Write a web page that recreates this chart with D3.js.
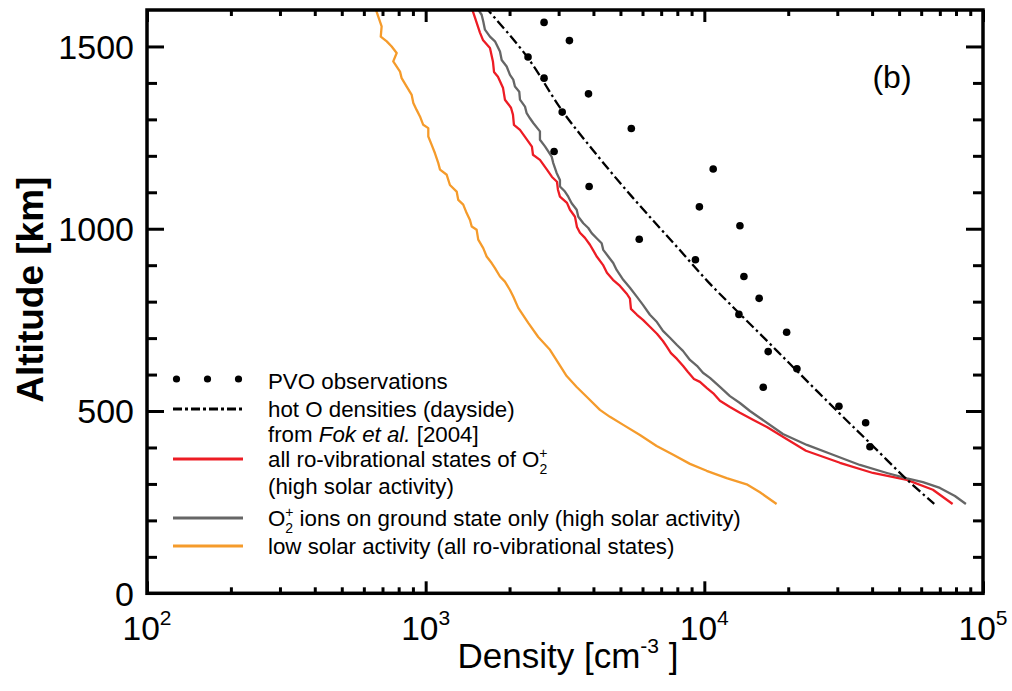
<!DOCTYPE html>
<html><head><meta charset="utf-8">
<script src="https://cdn.jsdelivr.net/npm/d3@7"></script>
<style>html,body{margin:0;padding:0;background:#fff;} svg{display:block;}</style>
</head><body>
<svg id="chart" width="1012" height="691"></svg>
<script>
// ---------------- data ----------------
const pvoDensity  = [2660,3280,2330,2660,3840,3090,5470,2890,10760,3860,9600,13420,5840,9290,13870,15730,13310,19740,16950,21490,16270,30410,37920,39290];
const pvoAltitude = [1566,1516,1471,1413,1370,1320,1275,1212,1164,1116,1060,1008,971,915,869,809,765,716,663,616,565,513,468,402];

const hotODensity  = [1630,1691,2310,3100,3980,4980,6230,7980,10300,13310,16910,21490,30410,39290,53330,66840];
const hotOAltitude = [1610,1596,1472,1322,1216,1126,1041,950,855,769,690,610,495,412,312,245];

const redDensity  = [1470,1503,1566,1605,1701,1744,1759,1817,1894,1925,2024,2057,2074,2180,2272,2406,2427,2571,2724,2840,2959,2983,3033,3214,3295,3434,3491,3578,3729,3886,3983,4117,4327,4472,4700,4980,5276,5408,5453,5731,6022,6378,6760,7104,7342,7589,7975,8380,8734,9178,9643,10216,10824,11376,12357,13417,14944,16772,19460,23150,30660,40270,53330,66110,77800];
const redAltitude = [1601,1579,1538,1518,1496,1458,1430,1417,1387,1354,1332,1313,1285,1271,1252,1225,1203,1189,1162,1142,1129,1107,1088,1071,1052,1033,1005,989,975,956,942,923,901,879,860,843,821,808,780,764,750,731,712,692,676,659,643,624,607,588,580,563,547,528,511,495,476,456,426,391,358,330,311,284,245];

const grayDensity  = [1544,1588,1609,1632,1701,1773,1848,1874,1953,2007,2062,2091,2167,2180,2272,2304,2367,2433,2571,2571,2680,2754,2832,2870,2951,3033,3033,3161,3249,3341,3483,3530,3679,3833,3942,4108,4281,4338,4521,4711,4845,5117,5408,5731,6022,6378,6760,7104,7526,7975,8380,8880,9408,9886,10474,11376,12357,13417,14576,15833,19143,23343,28940,36160,45210,53330,60860,70050,79300,86830];
const grayAltitude = [1601,1587,1569,1546,1527,1514,1486,1463,1445,1422,1409,1390,1376,1354,1335,1317,1303,1290,1267,1244,1226,1212,1198,1180,1153,1134,1116,1102,1088,1070,1052,1033,1015,1002,988,974,960,942,924,906,887,860,838,813,791,764,744,720,701,681,665,640,624,605,591,566,541,522,500,481,437,407,380,352,330,315,305,289,267,245];

const lowDensity  = [663,676,695,690,725,755,787,765,809,820,855,891,903,928,954,980,1022,1022,1051,1080,1110,1126,1190,1222,1292,1309,1364,1403,1442,1463,1524,1544,1609,1655,1725,1773,1848,1925,2007,2062,2149,2334,2535,2793,2991,3206,3483,3782,4220,4585,5117,5874,6743,7734,8880,10193,12023,14187,15833,18170];
const lowAltitude = [1601,1582,1555,1527,1514,1500,1482,1459,1431,1413,1390,1367,1345,1326,1308,1285,1276,1253,1230,1207,1180,1162,1148,1120,1102,1079,1066,1043,1024,1006,997,970,947,924,906,892,869,855,832,814,783,742,703,668,632,596,566,539,503,484,462,434,404,380,355,336,316,299,277,245];

const xTickExponents = [2,3,4,5];
const yTickLabels = [0,500,1000,1500];
const yMinorTicks = [100,200,300,400,600,700,800,900,1100,1200,1300,1400];

const legendLabels = [
  ["PVO observations"],
  ["hot O densities (dayside)", "from |Fok et al.| [2004]"],
  ["all ro-vibrational states of O@", "(high solar activity)"],
  ["O@ ions on ground state only (high solar activity)"],
  ["low solar activity (all ro-vibrational states)"]
];

// ---------------- layout ----------------
const L=147, R=983, T=10, B=593.3;
const FONT="'Liberation Sans', Arial, Helvetica, sans-serif";
const colors = {red:"#ed1c24", gray:"#666666", orange:"#f59b2b", black:"#000"};

const x=d3.scaleLog().domain([1e2,1e5]).range([L,R]);
const y=d3.scaleLinear().domain([0,1600]).range([B,T]);
const svg=d3.select("#chart");

svg.append("defs").append("clipPath").attr("id","clip")
  .append("rect").attr("x",L).attr("y",T).attr("width",R-L).attr("height",B-T);

const pts=(n,a)=>n.map((v,i)=>[v,a[i]]);
const line=d3.line().x(d=>x(d[0])).y(d=>y(d[1]));
const smooth=d3.line().x(d=>x(d[0])).y(d=>y(d[1])).curve(d3.curveCatmullRom);

const plot=svg.append("g").attr("clip-path","url(#clip)");
plot.append("path").datum(pts(lowDensity,lowAltitude)).attr("d",line)
  .attr("fill","none").attr("stroke",colors.orange).attr("stroke-width",2.3).attr("stroke-linejoin","round");
plot.append("path").datum(pts(redDensity,redAltitude)).attr("d",line)
  .attr("fill","none").attr("stroke",colors.red).attr("stroke-width",2.3).attr("stroke-linejoin","round");
plot.append("path").datum(pts(grayDensity,grayAltitude)).attr("d",line)
  .attr("fill","none").attr("stroke",colors.gray).attr("stroke-width",2.3).attr("stroke-linejoin","round");
plot.append("path").datum(pts(hotODensity,hotOAltitude)).attr("d",smooth)
  .attr("fill","none").attr("stroke",colors.black).attr("stroke-width",2.3)
  .attr("stroke-dasharray","10,3.5,2.5,3.5");
plot.selectAll("circle.pvo").data(pts(pvoDensity,pvoAltitude)).enter().append("circle")
  .attr("class","pvo").attr("cx",d=>x(d[0])).attr("cy",d=>y(d[1])).attr("r",3.8).attr("fill","#000");

// ---------------- axes ----------------
const majorX=xTickExponents.map(e=>Math.pow(10,e));
const minorX=[];
xTickExponents.slice(0,-1).forEach(e=>{for(let k=2;k<=9;k++) minorX.push(k*Math.pow(10,e));});

function styleAxis(sel){
  sel.select(".domain").remove();
  sel.selectAll("text").remove();
  sel.selectAll("line").attr("stroke","#000").attr("stroke-width",3);
}
svg.append("g").attr("transform",`translate(0,${B})`).call(d3.axisBottom(x).tickValues(majorX).tickSize(-12).tickFormat("")).call(styleAxis);
svg.append("g").attr("transform",`translate(0,${B})`).call(d3.axisBottom(x).tickValues(minorX).tickSize(-6).tickFormat("")).call(styleAxis);
svg.append("g").attr("transform",`translate(0,${T})`).call(d3.axisTop(x).tickValues(majorX).tickSize(-12).tickFormat("")).call(styleAxis);
svg.append("g").attr("transform",`translate(0,${T})`).call(d3.axisTop(x).tickValues(minorX).tickSize(-6).tickFormat("")).call(styleAxis);

svg.append("g").attr("transform",`translate(${L},0)`).call(d3.axisLeft(y).tickValues(yTickLabels.slice(1)).tickSize(-17).tickFormat("")).call(styleAxis);
svg.append("g").attr("transform",`translate(${L},0)`).call(d3.axisLeft(y).tickValues(yMinorTicks).tickSize(-10).tickFormat("")).call(styleAxis);
svg.append("g").attr("transform",`translate(${R},0)`).call(d3.axisRight(y).tickValues(yTickLabels.slice(1)).tickSize(-17).tickFormat("")).call(styleAxis);
svg.append("g").attr("transform",`translate(${R},0)`).call(d3.axisRight(y).tickValues(yMinorTicks).tickSize(-10).tickFormat("")).call(styleAxis);

svg.append("rect").attr("x",L).attr("y",T).attr("width",R-L).attr("height",B-T)
  .attr("fill","none").attr("stroke","#000").attr("stroke-width",3.5);

// tick labels
svg.append("g").selectAll("text").data(yTickLabels).enter().append("text")
  .attr("x",134).attr("y",d=>y(d)).attr("dy","0.36em").attr("text-anchor","end")
  .attr("font-family",FONT).attr("font-size",34).attr("fill","#000").text(d=>d);

const xl=svg.append("g").selectAll("text").data(xTickExponents).enter().append("text")
  .attr("x",e=>x(Math.pow(10,e))).attr("y",640).attr("text-anchor","middle")
  .attr("font-family",FONT).attr("font-size",33.5).attr("fill","#000");
xl.append("tspan").text("10");
xl.append("tspan").attr("dy",-15).attr("font-size",21).text(e=>e);

// axis titles
const xt=svg.append("text").attr("x",(L+R)/2+3).attr("y",668).attr("text-anchor","middle")
  .attr("font-family",FONT).attr("font-size",35).attr("fill","#000");
xt.append("tspan").text("Density [cm");
xt.append("tspan").attr("dy",-15).attr("font-size",21).text("-3");
xt.append("tspan").attr("dy",15).text(" ]");

svg.append("text").attr("transform",`translate(43,${(T+B)/2-12}) rotate(-90)`).attr("text-anchor","middle")
  .attr("font-family",FONT).attr("font-size",37).attr("font-weight","bold").attr("fill","#000")
  .text("Altitude [km]");

svg.append("text").attr("x",892).attr("y",88).attr("text-anchor","middle")
  .attr("font-family",FONT).attr("font-size",32).attr("fill","#000").text("(b)");

// ---------------- legend ----------------
const legX0=173, legX1=243, textX=268;
const baselines=[[389],[417,442],[467,494],[526],[554]];
const legColors=[null,colors.black,colors.red,colors.gray,colors.orange];
const lg=svg.append("g");
function addLine(t, bx, by){
  const txt=lg.append("text").attr("x",bx).attr("y",by).attr("font-family",FONT).attr("font-size",22.3).attr("fill","#000");
  if(t.includes("|")){
    const parts=t.split("|");
    parts.forEach((p,i)=>{const s=txt.append("tspan").text(p); if(i===1) s.attr("font-style","italic");});
  } else if(t.includes("@")){
    const parts=t.split("@");
    txt.append("tspan").text(parts[0]);
    txt.append("tspan").attr("dy",7).attr("font-size",14).text("2");
    txt.append("tspan").attr("dx",-8).attr("dy",-16).attr("font-size",14).text("+");
    txt.append("tspan").attr("dy",9).text(parts[1]);
  } else txt.text(t);
}
legendLabels.forEach((lines,i)=>{
  lines.forEach((t,j)=>addLine(t,textX,baselines[i][j]));
  const sy=baselines[i][0]-8;
  if(i===0){
    lg.selectAll("circle.leg").data([0,1,2]).enter().append("circle").attr("class","leg")
      .attr("cx",k=>legX0+3.5+k*31).attr("cy",sy-2).attr("r",3.6).attr("fill","#000");
  } else {
    const ln=lg.append("line").attr("x1",legX0).attr("x2",legX1).attr("y1",sy).attr("y2",sy)
      .attr("stroke",legColors[i]).attr("stroke-width",3);
    if(i===1) ln.attr("stroke-dasharray","9,3,3,3");
  }
});
</script>
</body></html>
